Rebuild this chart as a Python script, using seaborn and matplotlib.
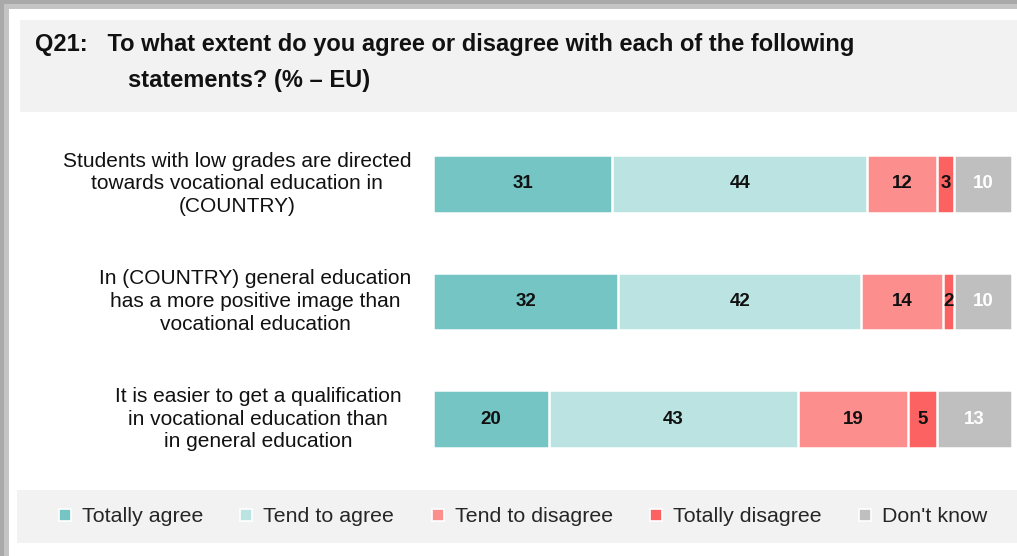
import matplotlib
matplotlib.use("Agg")
import matplotlib.pyplot as plt
import seaborn as sns
import pandas as pd
from matplotlib.patches import Rectangle
from matplotlib.lines import Line2D

statements = [
    "Students with low grades are directed\ntowards vocational education in\n(COUNTRY)",
    "In (COUNTRY) general education\nhas a more positive image than\nvocational education",
    "It is easier to get a qualification\nin vocational education than\nin general education",
]
series = ["Totally agree", "Tend to agree", "Tend to disagree", "Totally disagree", "Don't know"]
totally_agree = [31, 32, 20]
tend_to_agree = [44, 42, 43]
tend_to_disagree = [12, 14, 19]
totally_disagree = [3, 2, 5]
dont_know = [10, 10, 13]
title_line1 = "Q21:   To what extent do you agree or disagree with each of the following"
title_line2 = "statements? (% \u2013 EU)"

colors = ["#76C5C5", "#BAE3E2", "#FC8F8E", "#FD6262", "#BFBFBF"]
label_colors = ["#111111", "#111111", "#111111", "#111111", "white"]

values = [totally_agree, tend_to_agree, tend_to_disagree, totally_disagree, dont_know]
rows = []
for s, vals in zip(series, values):
    for st, v in zip(statements, vals):
        rows.append({"statement": st, "series": s, "value": v})
df = pd.DataFrame(rows)
df["left"] = df.groupby("statement", sort=False)["value"].cumsum() - df["value"]
df["cum"] = df["left"] + df["value"]

sns.set_theme(style="white")
plt.rcParams['font.family'] = ['Liberation Sans', 'DejaVu Sans']

W, H = 1017, 556
fig = plt.figure(figsize=(W / 100, H / 100), dpi=100)

def fx(px):
    return px / W

def fy(py):
    return 1 - py / H

# shadow frame
fig.patches.append(Rectangle((0, 0), 1, 1, transform=fig.transFigure,
                             facecolor="#a9a9a9", edgecolor="none", zorder=-20))
fig.patches.append(Rectangle((fx(4), 0), 1, fy(4), transform=fig.transFigure,
                             facecolor="#c4c4c4", edgecolor="none", zorder=-19))
fig.patches.append(Rectangle((fx(9), 0), 1, fy(9), transform=fig.transFigure,
                             facecolor="white", edgecolor="none", zorder=-18))
# title panel
fig.patches.append(Rectangle((fx(20), fy(112)), 1, 92 / H, transform=fig.transFigure,
                             facecolor="#f2f2f2", edgecolor="none", zorder=-17))
# legend panel
fig.patches.append(Rectangle((fx(17), fy(543)), 1, 53 / H, transform=fig.transFigure,
                             facecolor="#f2f2f2", edgecolor="none", zorder=-17))

fig.text(fx(35), fy(44), title_line1, fontsize=17, fontweight="bold",
         ha="left", va="center", color="#111111")
fig.text(fx(128), fy(80), title_line2, fontsize=17, fontweight="bold",
         ha="left", va="center", color="#111111")

ax = fig.add_axes([fx(433), fy(478), 579 / W, 353 / H])
ax.set_facecolor("none")

for s, c in reversed(list(zip(series, colors))):
    sub = df[df["series"] == s]
    sns.barplot(data=sub, x="cum", y="statement", order=statements, orient="h",
                color=c, width=0.49, edgecolor="white", linewidth=1.8,
                saturation=1, ax=ax)

for s, tc in zip(series, label_colors):
    sub = df[df["series"] == s]
    for i, st in enumerate(statements):
        r = sub[sub["statement"] == st].iloc[0]
        ax.text(r["left"] + r["value"] / 2, i, str(r["value"]), ha="center", va="center",
                fontsize=13.5, fontweight="bold", color=tc)

ax.set_xlim(0, 100)
ax.set_ylim(2.5, -0.5)
ax.set_xlabel("")
ax.set_ylabel("")
ax.set_xticks([])
ax.set_yticks([])
for sp in ax.spines.values():
    sp.set_visible(False)

label_x = [237, 255, 258]
for i, st in enumerate(statements):
    yc = ax.transData.transform((0, i))[1]
    fig.text(fx(label_x[i]), yc / fig.dpi / fig.get_figheight(), st, ha="center", va="center",
             fontsize=15, color="#111111", linespacing=1.25, multialignment="center")

handles = [Line2D([0], [0], marker="s", linestyle="none", markersize=8,
                  markerfacecolor=c, markeredgecolor="white", markeredgewidth=1.2)
           for c in colors]
fig.legend(handles, series, loc="center", bbox_to_anchor=(0.513, fy(517)), ncol=5,
           frameon=False, handlelength=0.8, handletextpad=0.4,
           columnspacing=1.62, prop={"family": ["Liberation Sans", "DejaVu Sans"], "size": 15.4})

fig.savefig("out.png", dpi=100)
